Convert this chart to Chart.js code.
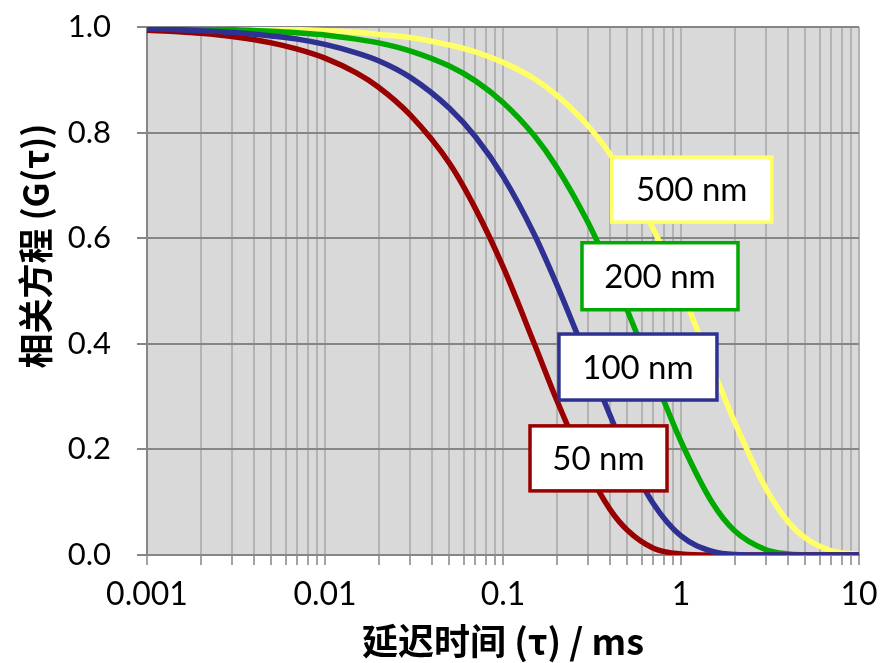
<!DOCTYPE html>
<html><head><meta charset="utf-8">
<script src="https://cdn.jsdelivr.net/npm/chart.js@4/dist/chart.umd.min.js"></script>
<style>html,body{margin:0;padding:0;background:#fff}#wrap{width:881px;height:663px;position:relative}</style>
</head><body><div id="wrap"><canvas id="c" width="881" height="663"></canvas></div>
<script>
// Delay times (ms) at which the curves were read
const delayTimes = [0.001,0.0015,0.002,0.003,0.005,0.007,0.01,0.015,0.02,0.03,0.05,0.07,0.1,0.15,0.2,0.3,0.4,0.5,0.7,1,1.5,2,3,4,5,7,10];
const g50  = [0.994,0.991,0.988,0.982,0.970,0.958,0.941,0.913,0.886,0.834,0.742,0.656,0.546,0.400,0.294,0.160,0.086,0.047,0.013,0.002,0,0,0,0,0,0,0];
const g100 = [0.997,0.995,0.993,0.990,0.983,0.977,0.967,0.951,0.936,0.905,0.846,0.792,0.717,0.607,0.513,0.368,0.264,0.189,0.097,0.036,0.007,0.001,0,0,0,0,0];
const g200 = [0.998,0.998,0.997,0.995,0.992,0.989,0.985,0.977,0.970,0.955,0.926,0.898,0.857,0.794,0.735,0.630,0.540,0.463,0.341,0.215,0.099,0.046,0.010,0.002,0.0005,0,0];
const g500 = [0.999,0.999,0.999,0.998,0.997,0.995,0.993,0.990,0.986,0.980,0.966,0.953,0.933,0.902,0.871,0.813,0.759,0.708,0.617,0.502,0.355,0.252,0.126,0.063,0.032,0.008,0.001];
const seriesNames = ['50 nm','100 nm','200 nm','500 nm'];
const xDecades = [0.001,0.01,0.1,1,10];
const xTickLabels = ['0.001','0.01','0.1','1','10'];
const yTickLabels = ['0.0','0.2','0.4','0.6','0.8','1.0'];
const xTitle = '延迟时间 (τ) / ms';
const yTitle = '相关方程 (G(τ))';

const colors = {'50 nm':'#990000','100 nm':'#2e3192','200 nm':'#00aa00','500 nm':'#ffff66'};
const seriesValues = {'50 nm':g50,'100 nm':g100,'200 nm':g200,'500 nm':g500};

// label box placements (data coordinates of centre, size in px)
const labelBoxes = [
  {name:'500 nm', x:1.15, y:0.692, w:160, h:65},
  {name:'200 nm', x:0.762, y:0.528, w:156, h:67},
  {name:'100 nm', x:0.573, y:0.356, w:158, h:66},
  {name:'50 nm',  x:0.344, y:0.183, w:137, h:65}
];

const xTickValues = [];
for (let i = 0; i < xDecades.length - 1; i++) {
  for (let m = 1; m <= 9; m++) xTickValues.push(+(xDecades[i]*m).toPrecision(3));
}
xTickValues.push(xDecades[xDecades.length-1]);

function makeDataset(name){
  return {
    label: name,
    data: delayTimes.map((t,i)=>({x:t, y:seriesValues[name][i]})),
    borderColor: colors[name],
    backgroundColor: colors[name],
    borderWidth: 5.5,
    pointRadius: 0,
    cubicInterpolationMode: 'monotone',
    fill: false
  };
}
function zeroPad(s){ s.paddingTop = 0; s.paddingBottom = 0; s.paddingLeft = 0; s.paddingRight = 0; }

const bgPlugin = {
  id:'plotBg',
  beforeDraw(chart){
    const {ctx, chartArea:a} = chart;
    ctx.save();
    ctx.fillStyle = '#d9d9d9';
    ctx.fillRect(a.left, a.top, a.right-a.left, a.bottom-a.top);
    ctx.restore();
  },
  afterDraw(chart){
    const {ctx} = chart;
    ctx.save();
    ctx.translate(36, 246);
    ctx.rotate(-Math.PI/2);
    ctx.fillStyle = '#000';
    ctx.font = 'bold 35px "Noto Sans CJK SC"';
    ctx.textAlign = 'center';
    ctx.textBaseline = 'middle';
    ctx.fillText(yTitle, 0, 0);
    ctx.restore();
  }
};
const boxPlugin = {
  id:'labelBoxes',
  afterDatasetsDraw(chart){
    const {ctx} = chart;
    const xs = chart.scales.x, ys = chart.scales.y;
    ctx.save();
    labelBoxes.forEach(b=>{
      const cx = xs.getPixelForValue(b.x), cy = ys.getPixelForValue(b.y);
      const l = cx - b.w/2, t = cy - b.h/2;
      ctx.fillStyle = '#ffffff';
      ctx.fillRect(l, t, b.w, b.h);
      ctx.strokeStyle = colors[b.name];
      ctx.lineWidth = 3.5;
      ctx.strokeRect(l, t, b.w, b.h);
      ctx.fillStyle = '#000000';
      ctx.font = '33px Lato';
      ctx.textAlign = 'center';
      ctx.textBaseline = 'middle';
      ctx.fillText(b.name, cx, cy+1);
    });
    ctx.restore();
  }
};

new Chart(document.getElementById('c'), {
  type:'line',
  data:{ datasets:[makeDataset('100 nm'), makeDataset('50 nm'), makeDataset('200 nm'), makeDataset('500 nm')] },
  options:{
    responsive:false,
    animation:false,
    devicePixelRatio:1,
    layout:{padding:{top:27,right:22,left:0,bottom:0}},
    plugins:{legend:{display:false}, tooltip:{enabled:false}},
    scales:{
      x:{
        type:'logarithmic', min:0.001, max:10,
        afterBuildTicks(s){ s.ticks = xTickValues.map(v=>({value:v})); },
        afterFit(s){ s.height = 108; zeroPad(s); },
        ticks:{
          autoSkip:false, maxRotation:0, color:'#000', padding:10,
          font:{family:'Lato', size:32},
          callback(v){ const i = xDecades.findIndex(d=>Math.abs(d-v)/d<1e-6); return i>=0 ? xTickLabels[i] : ''; }
        },
        grid:{color:'#b3b3b3', lineWidth:2, tickLength:10, tickColor:'#868686', tickWidth:1.5},
        border:{color:'#868686', width:2},
        title:{display:true, text:xTitle, color:'#000', font:{family:'Noto Sans CJK SC', weight:'bold', size:36}, padding:{top:0,bottom:0}}
      },
      y:{
        min:0, max:1,
        afterFit(s){ s.width = 147; zeroPad(s); },
        ticks:{
          stepSize:0.2, color:'#000', padding:26,
          font:{family:'Lato', size:31},
          callback(v){ return yTickLabels[Math.round(v/0.2)]; }
        },
        grid:{color:'#868686', lineWidth:2, tickLength:10, tickColor:'#868686'},
        border:{color:'#868686', width:2},
        title:{display:false}
      }
    }
  },
  plugins:[bgPlugin, boxPlugin]
});
</script></body></html>
